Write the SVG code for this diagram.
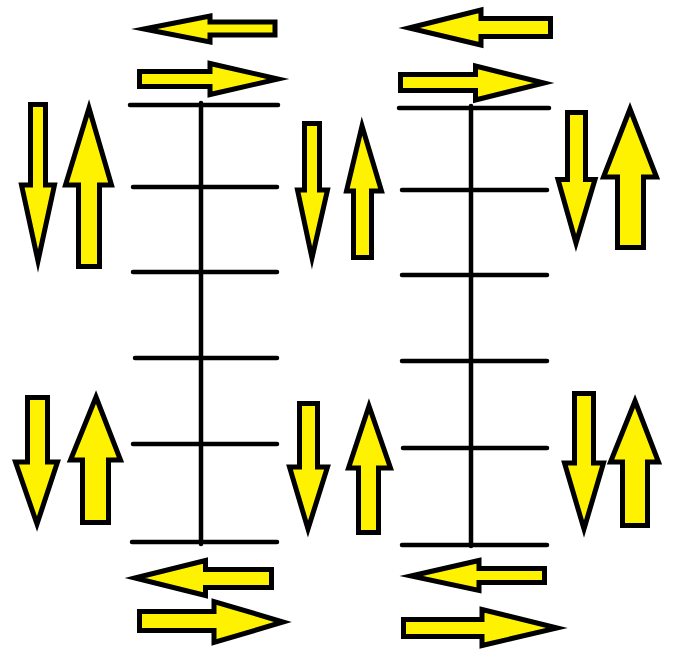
<svg xmlns="http://www.w3.org/2000/svg" width="688" height="651" viewBox="0 0 688 651">
<style>
.ar{fill:#fff200;stroke:#000;stroke-width:5;stroke-linejoin:miter;stroke-miterlimit:10}
.ln{stroke:#000;stroke-width:4.5;stroke-linecap:round;fill:none}
</style>
<rect width="688" height="651" fill="#fff"/>
<g id="ladder-left" class="ln">
<line x1="201" y1="103" x2="201" y2="544"/>
<line x1="130" y1="105" x2="278" y2="105"/>
<line x1="133" y1="187" x2="277" y2="187"/>
<line x1="133" y1="272" x2="277" y2="272"/>
<line x1="135" y1="358" x2="277" y2="358"/>
<line x1="133" y1="444" x2="277" y2="444"/>
<line x1="132" y1="542" x2="277" y2="542"/>
</g>
<g id="ladder-right" class="ln">
<line x1="471" y1="106" x2="471" y2="546"/>
<line x1="399" y1="108" x2="549" y2="108"/>
<line x1="402" y1="190" x2="547" y2="190"/>
<line x1="402" y1="275" x2="547" y2="275"/>
<line x1="402" y1="361" x2="547" y2="361"/>
<line x1="403" y1="448" x2="547" y2="448"/>
<line x1="402" y1="545" x2="547" y2="545"/>
</g>
<g id="connectors"></g>
<g id="a1"><polygon class="ar" points="144,29 210,16 210,22 275,22 275,35 210,35 210,42"/></g>
<g id="a2"><polygon class="ar" points="139.5,71.5 210,71.5 210,63.5 278,79 210,94.5 210,86.5 139.5,86.5"/></g>
<g id="a3"><polygon class="ar" points="30.5,104.5 45.5,104.5 45.5,185 54.5,185 38,261 21.5,185 30.5,185"/></g>
<g id="a4"><polygon class="ar" points="89,108 111.5,185 99.5,185 99.5,266.5 78.5,266.5 78.5,185 65.5,185"/></g>
<g id="a5"><polygon class="ar" points="304.5,123.5 319.5,123.5 319.5,190 327.5,190 312,258 297.5,190 304.5,190"/></g>
<g id="a6"><polygon class="ar" points="362,126 381.5,191 371.5,191 371.5,257.5 353.5,257.5 353.5,191 346.5,191"/></g>
<g id="a7"><polygon class="ar" points="409,28 481,10 481,18.5 550.5,18.5 550.5,36.5 481,36.5 481,45"/></g>
<g id="a8"><polygon class="ar" points="400.5,74.5 475.5,74.5 475.5,66 544,83 475.5,100 475.5,90.5 400.5,90.5"/></g>
<g id="a9"><polygon class="ar" points="567.5,112.5 585.5,112.5 585.5,179.5 595,179.5 576,243 558,179.5 567.5,179.5"/></g>
<g id="a10"><polygon class="ar" points="630,109 656.5,177 643.5,177 643.5,247.5 617.5,247.5 617.5,177 603.5,177"/></g>
<g id="a11"><polygon class="ar" points="27.5,397.5 47.5,397.5 47.5,462 57.5,462 37,524 15.5,462 27.5,462"/></g>
<g id="a12"><polygon class="ar" points="96,397 120.5,460 108.5,460 108.5,522.5 82.5,522.5 82.5,460 70.5,460"/></g>
<g id="a13"><polygon class="ar" points="299.5,403.5 317.5,403.5 317.5,467 327.5,467 308,529 289.5,467 299.5,467"/></g>
<g id="a14"><polygon class="ar" points="369,406 390.5,468 378.5,468 378.5,532.5 358.5,532.5 358.5,468 348.5,468"/></g>
<g id="a15"><polygon class="ar" points="574.5,393.5 593.5,393.5 593.5,463 603.5,463 584,529 564.5,463 574.5,463"/></g>
<g id="a16"><polygon class="ar" points="635,401 658.5,462 647.5,462 647.5,525.5 622.5,525.5 622.5,462 610.5,462"/></g>
<g id="a17"><polygon class="ar" points="135,578 205.5,560.5 205.5,569.5 271.5,569.5 271.5,587.5 205.5,587.5 205.5,595.5"/></g>
<g id="a18"><polygon class="ar" points="139.5,611.5 214,611.5 214,601.5 283,622 214,642.5 214,630.5 139.5,630.5"/></g>
<g id="a19"><polygon class="ar" points="411,576 479,560.5 479,568.5 544.5,568.5 544.5,582.5 479,582.5 479,590.5"/></g>
<g id="a20"><polygon class="ar" points="403.5,619.5 482,619.5 482,609.5 557,628 482,645.5 482,636.5 403.5,636.5"/></g>
</svg>
